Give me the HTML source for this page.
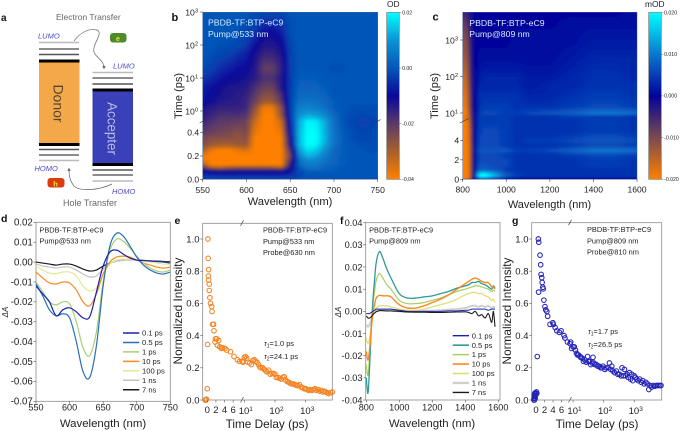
<!DOCTYPE html>
<html lang="en">
<head>
<meta charset="utf-8">
<title>Transient absorption figure</title>
<style>
html,body{margin:0;padding:0;background:#fff;width:683px;height:431px;overflow:hidden}
svg{display:block;font-family:"Liberation Sans",sans-serif}
</style>
</head>
<body>
<svg id="fig" xmlns="http://www.w3.org/2000/svg" width="683" height="431" viewBox="0 0 683 431">
  <defs>
    <clipPath id="clip-b"><rect x="202.7" y="12.3" width="175" height="167"/></clipPath>
    <clipPath id="clip-c"><rect x="462.7" y="12.3" width="174.3" height="167"/></clipPath>
    <clipPath id="clip-d"><rect x="36" y="222.3" width="134.3" height="179"/></clipPath>
    <clipPath id="clip-f"><rect x="365.7" y="222.7" width="134.3" height="177.3"/></clipPath>
    <filter id="blur-b" filterUnits="userSpaceOnUse" x="170" y="-20" width="240" height="230"><feGaussianBlur stdDeviation="1.2 0.8"/></filter>
    <filter id="blur-c" filterUnits="userSpaceOnUse" x="430" y="-20" width="240" height="230"><feGaussianBlur stdDeviation="1 0.5"/></filter>
    <linearGradient id="grad-b" x1="0" y1="1" x2="0" y2="0"></linearGradient>
    <linearGradient id="grad-c" x1="0" y1="1" x2="0" y2="0"></linearGradient>
    <marker id="arrow-head" markerWidth="5" markerHeight="5" refX="3" refY="2.5" orient="auto"><path d="M0,0 L5,2.5 L0,5 Z" fill="#666"/></marker>
  </defs>

  <g>
    <text x="1" y="21" font-size="10" font-weight="bold" fill="#111">a</text>
    <text x="56" y="20" font-size="8.5" fill="#666">Electron Transfer</text>
    <text x="63" y="206" font-size="9" fill="#666">Hole Transfer</text>
    <text x="38" y="38.5" font-size="7.5" font-style="italic" fill="#4a4ac8">LUMO</text>
    <text x="113" y="68.5" font-size="7.5" font-style="italic" fill="#4a4ac8">LUMO</text>
    <text x="34.5" y="171" font-size="7.5" font-style="italic" fill="#4a4ac8">HOMO</text>
    <text x="112" y="194" font-size="7.5" font-style="italic" fill="#4a4ac8">HOMO</text>
    <rect x="110" y="33" width="16.5" height="9.5" rx="3" fill="#4f8a2c"/>
    <text x="118" y="41" font-size="7" font-weight="bold" text-anchor="middle" fill="#e8e830">e</text>
    <rect x="47.5" y="178" width="17" height="9.5" rx="3" fill="#dc3a10"/>
    <text x="55.5" y="186.5" font-size="7.5" font-weight="bold" text-anchor="middle" fill="#f2e030">h</text>
    <rect x="39" y="62" width="40.5" height="82" fill="#f5a84a"/>
    <text transform="translate(53.5,103.5) rotate(90)" font-size="14" text-anchor="middle" fill="#55452f">Donor</text>
    <rect x="92.5" y="90" width="40.5" height="75" fill="#3a40b8"/>
    <text transform="translate(107.5,128.5) rotate(90)" font-size="13.4" text-anchor="middle" fill="#b8bce8">Accepter</text>
    <g stroke-width="1.4">
      <line x1="39" x2="79" y1="42.5" y2="42.5" stroke="#bbb"/>
      <line x1="39" x2="79" y1="49" y2="49" stroke="#666"/>
      <line x1="39" x2="79" y1="54.5" y2="54.5" stroke="#555"/>
      <line x1="39" x2="79.5" y1="61" y2="61" stroke="#000" stroke-width="3"/>
      <line x1="39" x2="79.5" y1="144.5" y2="144.5" stroke="#000" stroke-width="3"/>
      <line x1="39" x2="79" y1="149.5" y2="149.5" stroke="#555"/>
      <line x1="39" x2="79" y1="155" y2="155" stroke="#666"/>
      <line x1="39" x2="79" y1="160.5" y2="160.5" stroke="#bbb"/>
    </g>
    <g stroke-width="1.4">
      <line x1="92.5" x2="133" y1="72.5" y2="72.5" stroke="#bbb"/>
      <line x1="92.5" x2="133" y1="78" y2="78" stroke="#666"/>
      <line x1="92.5" x2="133" y1="84" y2="84" stroke="#555"/>
      <line x1="92.5" x2="133" y1="90" y2="90" stroke="#000" stroke-width="3"/>
      <line x1="92.5" x2="133" y1="164.5" y2="164.5" stroke="#000" stroke-width="3"/>
      <line x1="92.5" x2="133" y1="170" y2="170" stroke="#555"/>
      <line x1="92.5" x2="133" y1="175" y2="175" stroke="#666"/>
      <line x1="92.5" x2="133" y1="181" y2="181" stroke="#bbb"/>
    </g>
    <path d="M74,41 C80,33 88,28 97,30 C104,33 92,44 94,52 C96,58 104,60 104,68" fill="none" stroke="#666" stroke-width="0.7" marker-end="url(#arrow-head)"/>
    <path d="M112,184 C100,190 80,192 74,186 C70,181 69,176 69,169" fill="none" stroke="#666" stroke-width="0.7" marker-end="url(#arrow-head)"/>
  </g>
  <g id="charts"></g>
</svg>

<script>
// ---------- panel b heatmap data (values in 10^-3 OD) ----------
const bWavelengths = [550,560,570,580,590,600,610,620,630,640,650,660,670,680,690,700,710,720,730,740,750];
const bTimes = [0,0.04,0.07,0.1,0.13,0.17,0.2,0.25,0.3,0.35,0.4,0.5,0.75,1.3,2,3,5,10,20,50,100,200,500,1000];
const bMatrix = [
 [-2,-2,-2,-2,-2,-2,-2,-2,-2,-2,-2,-1,-1,-1,-1,-1,-1,-1,-1,-1,-1],
 [-5,-5,-6,-6,-6,-6,-6,-6,-6,-6,-5,-2,0,0,0,0,0,0,0,0,0],
 [-10,-11,-12,-13,-12,-12,-12,-12,-12,-12,-9,-2,1,1,1,1,0,0,0,0,0],
 [-18,-28,-30,-26,-25,-25,-25,-25,-26,-28,-12,0,4,4,2,1,0,0,0,0,0],
 [-30,-40,-40,-40,-40,-40,-40,-40,-40,-40,-16,2,6,6,3,2,1,0,0,0,0],
 [-38,-40,-40,-40,-40,-40,-40,-40,-40,-40,-20,3,9,8,5,2,1,0,0,0,0],
 [-38,-40,-40,-40,-40,-40,-40,-40,-40,-40,-24,6,13,11,6,3,1,0,0,0,0],
 [-30,-38,-40,-40,-38,-36,-40,-40,-40,-40,-20,10,17,15,9,3,1,0,0,-1,-1],
 [-25,-28,-30,-30,-28,-28,-40,-40,-40,-40,-14,13,20,19,12,5,1,0,-1,-1,-1],
 [-24,-26,-26,-26,-27,-26,-40,-40,-40,-40,-12,13,20,20,13,5,1,-1,-2,-2,-1],
 [-20,-22,-23,-24,-26,-24,-38,-40,-40,-38,-9,13,20,20,13,5,1,-1,-2,-2,-1],
 [-16,-18,-20,-20,-21,-22,-34,-40,-40,-34,-6,12,19,18,12,4,0,-2,-3,-3,-2],
 [-14,-16,-18,-18,-18,-19,-30,-40,-40,-28,-4,9,12,11,8,3,0,-1,-2,-2,-1],
 [-12,-14,-15,-15,-15,-16,-26,-38,-38,-26,-3,6,7,6,4,1,0,-1,-1,-1,-1],
 [-9,-11,-13,-14,-14,-16,-22,-28,-28,-20,-3,4,5,4,3,1,0,0,0,0,0],
 [-8,-10,-12,-13,-14,-15,-20,-26,-26,-18,-3,3,3,3,2,0,0,0,0,0,0],
 [-7,-9,-11,-13,-13,-14,-18,-22,-22,-14,-3,2,2,2,1,0,0,0,0,0,0],
 [-4,-6,-8,-10,-11,-12,-14,-18,-18,-14,-3,1,1,1,0,0,0,0,0,0,0],
 [-1,-3,-5,-7,-9,-10,-13,-21,-21,-15,-3,0,0,0,0,-1,-1,0,0,0,0],
 [0,-1,-2,-3,-5,-7,-12,-16,-16,-13,-3,0,0,0,0,0,0,0,0,0,0],
 [0,0,-1,-1,-2,-4,-9,-13,-13,-11,-2,0,0,0,0,0,0,0,0,0,0],
 [0,0,0,0,-1,-2,-5,-11,-11,-8,-1,0,0,0,0,0,0,0,0,0,0],
 [0,0,0,0,0,-1,-2,-4,-5,-4,-1,0,0,0,0,0,0,0,0,0,0],
 [0,0,0,0,0,0,-1,-2,-2,-2,0,0,0,0,0,0,0,0,0,0,0]
];
const bXTicks = [550,600,650,700,750];
const bYLinearTicks = [0,0.2,0.4];
const bYLogTicks = [0,1,2,3];
const bColorTicks = [0.02,0,-0.02,-0.04];
const bColorTickLabels = ["0.02","0.00","-0.02","-0.04"];

// ---------- panel c heatmap data (values in 10^-3 OD) ----------
const cWavelengths = [800,815,830,845,860,880,900,950,1000,1050,1100,1200,1300,1400,1500,1600];
const cTimes = [0,0.1,0.3,0.6,1,1.5,2,2.5,3,3.5,4,4.5,5,6,8,10,15,30,60,100,300,1000,3000,5600];
const cMatrix = [
 [-2,-2,-2,-1,0,0,0,0,0,0,0,0,0,0,0,0],
 [-20,-20,-18,-6,2,8,8,5,3,1,1,1,1,1,1,1],
 [-20,-20,-18,-8,8,20,20,14,7,5,4,4,4,4,4,4],
 [-20,-20,-18,-8,7,18,19,13,7,5,4,4,4,4,4,4],
 [-20,-20,-18,-8,4,8,8,7,5,4,4,4,4,4,4,4],
 [-20,-20,-18,-8,3,7,7,6,6,4,4,4,4,5,5,4],
 [-20,-20,-18,-8,3,6,6,6,6,4,4,4,4,5,5,4],
 [-20,-20,-18,-8,3,6,6,6,5,4,4,4,5,6,6,5],
 [-20,-20,-18,-8,3,7,7,7,7,5,5,6,8,10,10,9],
 [-20,-20,-18,-8,3,6,6,6,5,4,4,4,5,6,6,5],
 [-20,-20,-17,-7,2,6,6,6,5,4,5,5,6,7,7,6],
 [-20,-20,-17,-7,2,6,6,6,5,4,4,4,5,6,6,5],
 [-20,-20,-17,-7,2,5,6,6,5,4,4,4,4,5,5,4],
 [-20,-20,-16,-6,2,5,5,5,5,4,4,4,4,5,5,4],
 [-19,-19,-15,-5,1,5,5,5,5,4,4,4,5,5,5,4],
 [-20,-20,-14,-5,1,5,6,6,5,5,6,7,8,10,10,9],
 [-19,-19,-13,-4,1,4,5,5,5,4,4,4,5,6,6,5],
 [-18,-18,-12,-4,1,4,4,4,4,4,3,3,4,5,5,4],
 [-17,-17,-11,-3,0,3,3,3,3,3,2,3,3,4,4,4],
 [-16,-16,-10,-3,0,2,3,3,3,3,2,2,3,4,4,3],
 [-13,-13,-9,-2,0,1,1,1,1,1,1,1,2,3,3,3],
 [-11,-11,-7,-2,0,0,0,0,0,1,1,1,1,2,2,2],
 [-8,-8,-5,-1,0,0,0,0,0,0,0,0,1,1,1,1],
 [-4,-5,-3,-1,0,0,0,0,0,0,0,0,0,0,0,1]
];
const cXTicks = [800,1000,1200,1400,1600];
const cYLinearTicks = [0,2,4];
const cYLogTicks = [1,2,3];
const cColorTicks = [0.02,0.01,0,-0.01,-0.02];
const cColorTickLabels = ["0.020","0.010","0.000","-0.010","-0.020"];

// ---------- panel d spectra (values in 10^-3) ----------
const dWavelengths = [550,560,570,580,590,600,610,620,630,640,650,660,670,680,690,700,710,720,730,740,750];
const d7ns    = [0,-0.5,-1,-1.5,-1,-1,-2,-3.5,-4.5,-4,-2,-0.5,0.5,1,1.2,1,0.8,0.6,0.5,0.3,0.2];
const d1ns    = [-1,-2,-2.5,-3,-2.5,-2.5,-4,-6,-7.5,-7,-3.5,-0.5,0.5,1,1,1,0.8,0.5,0.3,0,-0.2];
const d100ps  = [-2,-4,-5.5,-5.8,-5,-5,-7,-12,-14.5,-13,-6,-1,1,1.5,1.5,1,0.5,0,-0.5,-1,-1];
const d10ps   = [-5,-8,-10.5,-11,-10,-10.5,-14,-20,-22,-16,-6,0,2.5,3,2.5,1,-0.5,-1.5,-2.5,-3,-2.5];
const d1ps    = [-10,-15,-20,-21.5,-20,-21,-30,-43,-47,-35,-10,6,11.5,10.5,7,3,-0.5,-3,-4.5,-5,-4];
const d05ps   = [-11,-17,-24,-27,-26,-28,-40,-55,-58,-42,-12,8,14.5,13,8,2.5,-1.5,-4,-5.5,-6,-5];
const d01ps   = [-12,-16,-20,-27,-24,-23,-25,-28,-27.5,-15,-2,5,6,4,2,1,0.8,0.5,0.3,0,-0.5];
const dLegend = ["0.1 ps","0.5 ps","1 ps","10 ps","100 ps","1 ns","7 ns"];
const dXTicks = [550,600,650,700,750];
const dYTicks = [0.02,0.01,0,-0.01,-0.02,-0.03,-0.04,-0.05,-0.06,-0.07];

// ---------- panel e kinetics ----------
const eTimes = [-0.5,-0.4,-0.3,-0.2,0,0.05,0.15,0.2,0.3,0.25,0.3,0.45,0.45,0.6,0.75,1,1.1,1.25,1.45,1.55,1.8,1.9,2.2,2.65,2.35,2.9,3.3,3.5,4.1,4.5,5.4,6.2,7,7.5,8.5,9,10,11,12,13,15,17,19,21,23,26,29,32,35,40,45,50,55,62,70,80,90,100,110,125,140,160,180,200,220,250,280,310,350,400,450,500,560,630,710,800,900,1000,1100,1250,1400,1600,1800,2000,2200,2500,2800,3200,3600,4000,4500,5000,5600,6500,7400];
const eValues = [0,0,0,0.005,0.07,0.345,1.0,0.88,0.81,0.77,0.745,0.72,0.68,0.635,0.6,0.58,0.55,0.47,0.47,0.43,0.36,0.38,0.38,0.37,0.34,0.33,0.32,0.325,0.32,0.31,0.30,0.27,0.25,0.24,0.24,0.235,0.265,0.27,0.26,0.235,0.23,0.22,0.245,0.25,0.24,0.235,0.22,0.205,0.2,0.2,0.19,0.18,0.175,0.185,0.16,0.165,0.165,0.16,0.14,0.14,0.135,0.13,0.14,0.145,0.125,0.115,0.11,0.105,0.1,0.1,0.095,0.09,0.09,0.095,0.08,0.075,0.07,0.07,0.065,0.06,0.065,0.06,0.065,0.07,0.06,0.065,0.055,0.06,0.05,0.055,0.05,0.045,0.04,0.045,0.05];
const eYTicks = [0,0.2,0.4,0.6,0.8,1.0];
const eXLinearTicks = [0,2,4,6];
const eXLogTicks = [1,2,3];

// ---------- panel f spectra (values in 10^-3) ----------
const fWavelengths = [800,810,820,830,840,850,860,880,900,925,950,1000,1050,1100,1150,1200,1250,1300,1350,1400,1420,1440,1460,1480,1500,1520,1540,1560,1570,1580];
const f1ns   = [-6,-7,-6,-4,-1,0,0.5,0.8,0.8,0.7,0.5,0,0,0,0.2,0.3,0.5,0.8,1,1.5,2,2.5,2.5,2,2.5,2,2.5,1.5,2,1.5];
const f100ps = [-12,-14.5,-12,-7,-2,0,1.5,2.5,2.5,2.5,2,1,0.5,0.5,1,2,3,4,5.5,7.5,8,8.5,8.5,8,8,7,6.5,5,5.5,4];
const f1ps   = [-24,-29,-20,-6,3,9,14,17,15,12,10,5,3.5,3.5,4,5,6,7.5,9,10,10.5,11,11.5,11.5,11,10.5,10,9,9.5,9];
const f05ps  = [-30,-37,-25,-8,5,14,22,27,24,19,15,8,6,6,6.5,7,8,9,10.5,11.5,12,13,13,13.5,12.5,12,11,10,11.5,10.5];
const f10ps  = [-18,-22,-17,-8,-1,3,6,7.2,7,7,6.5,3,1.5,1.5,2.5,4,5.5,7.5,10,12.5,13.5,14.5,15,14.5,13.5,13,13,11,11,10];
const f01ps  = [-1,-1,-1,-0.5,0,0.5,1,1,1,1,1,0.5,0,0,0,0,0,0.2,0.2,0.5,0.5,1,1,1,1,1,0.5,1,1,1];
const f7ns   = [-2,-3,-3,-2.5,-1.5,-0.8,-0.2,0.3,0.3,0.2,0.2,0,-0.3,-0.4,-0.4,-0.5,-0.5,-0.4,-0.3,-0.2,-0.5,-1,0,-2,-1.5,-3,-1,-5,0,-7];
const fLegend = ["0.1 ps","0.5 ps","1 ps","10 ps","100 ps","1 ns","7 ns"];
const fXTicks = [800,1000,1200,1400,1600];
const fYTicks = [0.04,0.03,0.02,0.01,0,-0.01,-0.02,-0.03,-0.04];

// ---------- panel g kinetics ----------
const gTimes = [-0.5,-0.45,-0.4,-0.35,-0.3,-0.25,-0.2,-0.15,-0.1,0.1,0.2,0.3,0.55,0.6,0.65,0.95,1.1,1.2,1.35,1.45,1.6,1.7,1.85,2.1,2.3,2.55,2.75,3.3,3.95,4.1,4.5,4.9,5.5,5.9,6.6,6.8,7.4,8,8.4,9,10,11,12,13,14,15,17,18,20,22,24,27,30,32,35,38,42,45,48,52,58,65,72,80,88,96,110,120,140,155,170,185,200,230,260,290,330,370,400,440,480,520,580,640,700,760,830,900,1000,1100,1200,1350,1500,1700,1900,2100,2400,2700,3000,3300,3700,4200,4700,5300,6000,6800,7500];
const gValues = [0,0.01,0.03,0,0.04,0.02,0.01,0.045,0.03,0.05,0.04,0.27,1.0,0.67,0.98,0.9,0.84,0.78,0.76,0.73,0.7,0.69,0.62,0.58,0.56,0.55,0.52,0.47,0.48,0.47,0.45,0.43,0.42,0.43,0.4,0.385,0.36,0.35,0.36,0.32,0.33,0.33,0.31,0.29,0.28,0.28,0.27,0.265,0.26,0.24,0.25,0.235,0.27,0.24,0.24,0.22,0.23,0.265,0.23,0.22,0.22,0.21,0.21,0.2,0.2,0.21,0.19,0.2,0.2,0.23,0.19,0.21,0.18,0.17,0.18,0.16,0.16,0.15,0.2,0.15,0.19,0.15,0.16,0.14,0.17,0.13,0.16,0.12,0.15,0.14,0.13,0.12,0.13,0.11,0.12,0.1,0.11,0.1,0.065,0.09,0.08,0.09,0.085,0.09,0.09,0.09,0.09];
const gYTicks = [0,0.2,0.4,0.6,0.8,1.0];
const gXLinearTicks = [0,2,4,6];
const gXLogTicks = [1,2,3];

// ---------- helpers ----------
const NS = 'http://www.w3.org/2000/svg';
const root = document.getElementById('charts');
function add(parent, tag, name, attrs, text) {
  const el = document.createElementNS(NS, tag);
  
  
  for (const k in attrs) el.setAttribute(k, attrs[k]);
  if (text !== undefined) el.textContent = text;
  parent.appendChild(el);
  return el;
}
function line(g, name, x1, y1, x2, y2, stroke, w) {
  return add(g, 'line', name, {x1, y1, x2, y2, stroke: stroke || '#333', 'stroke-width': w || 0.6});
}
function powerLabel(g, name, x, y, exp, size) {
  const t = add(g, 'text', name, {x, y, 'font-size': size, 'text-anchor': 'middle', fill: '#222'}, '10');
  const s = document.createElementNS(NS, 'tspan');
  s.setAttribute('dy', -3);
  s.setAttribute('font-size', size * 0.68);
  s.textContent = exp;
  t.appendChild(s);
  return t;
}
function rotatedLabel(g, name, x, y, txt, size, extra) {
  return add(g, 'text', name, Object.assign({transform: `translate(${x},${y}) rotate(-90)`, 'font-size': size, 'text-anchor': 'middle', fill: '#222'}, extra || {}), txt);
}
function lerpColor(stops, v) {
  if (v <= stops[0][0]) return '#' + stops[0][1];
  if (v >= stops[stops.length - 1][0]) return '#' + stops[stops.length - 1][1];
  for (let i = 1; i < stops.length; i++) {
    if (v <= stops[i][0]) {
      const a = stops[i - 1], b = stops[i], f = (v - a[0]) / (b[0] - a[0]);
      const ca = a[1].match(/\w\w/g).map(h => parseInt(h, 16));
      const cb = b[1].match(/\w\w/g).map(h => parseInt(h, 16));
      return 'rgb(' + ca.map((c, j) => Math.round(c + (cb[j] - c) * f)).join(',') + ')';
    }
  }
}
function smoothPath(xs, ys) {
  let d = `M${xs[0].toFixed(2)},${ys[0].toFixed(2)}`;
  for (let i = 0; i < xs.length - 1; i++) {
    const p0 = i ? i - 1 : i, p3 = i + 2 < xs.length ? i + 2 : i + 1;
    const c1x = xs[i] + (xs[i + 1] - xs[p0]) / 6, c1y = ys[i] + (ys[i + 1] - ys[p0]) / 6;
    const c2x = xs[i + 1] - (xs[p3] - xs[i]) / 6, c2y = ys[i + 1] - (ys[p3] - ys[i]) / 6;
    d += `C${c1x.toFixed(2)},${c1y.toFixed(2)} ${c2x.toFixed(2)},${c2y.toFixed(2)} ${xs[i + 1].toFixed(2)},${ys[i + 1].toFixed(2)}`;
  }
  return d;
}
// Draws the matrix as fine shaded tiles: each tile colour comes from the surrounding matrix values.
function heatmap(g, clip, filter, xs, ts, matrix, xScale, yScale, stops, x0, x1, y0, y1) {
  const clipG = add(g, 'g', 'heatmap-clip', {'clip-path': `url(#${clip})`});
  add(clipG, 'rect', 'heatmap-background', {x: x0, y: y1, width: x1 - x0, height: y0 - y1, fill: lerpColor(stops, 0)});
  const blur = add(clipG, 'g', 'heatmap-cells', {filter: `url(#${filter})`});
  for (let r = 0; r < ts.length - 1; r++) {
    const ya = yScale(ts[r]), yb = yScale(ts[r + 1]);
    const ny = Math.max(1, Math.ceil(Math.abs(ya - yb) / 2));
    for (let sr = 0; sr < ny; sr++) {
      const fy = (sr + 0.5) / ny;
      let top = yb + (ya - yb) * (1 - (sr + 1) / ny) - 0.3;
      let bot = yb + (ya - yb) * (1 - sr / ny) + 0.3;
      if (r === 0 && sr === 0) bot += 4;
      if (r === ts.length - 2 && sr === ny - 1) top -= 4;
      for (let c = 0; c < xs.length - 1; c++) {
        const xa = xScale(xs[c]), xb = xScale(xs[c + 1]);
        const nx = Math.max(1, Math.ceil((xb - xa) / 2.2));
        for (let sc = 0; sc < nx; sc++) {
          const fx = (sc + 0.5) / nx;
          const v = (matrix[r][c] * (1 - fx) + matrix[r][c + 1] * fx) * (1 - fy) + (matrix[r + 1][c] * (1 - fx) + matrix[r + 1][c + 1] * fx) * fy;
          let l = xa + (xb - xa) * sc / nx - 0.3;
          let rr = xa + (xb - xa) * (sc + 1) / nx + 0.3;
          if (c === 0 && sc === 0) l -= 4;
          if (c === xs.length - 2 && sc === nx - 1) rr += 4;
          add(blur, 'rect', 'heatmap-cell', {x: l.toFixed(2), y: top.toFixed(2), width: (rr - l).toFixed(2), height: (bot - top).toFixed(2), fill: lerpColor(stops, v)});
        }
      }
    }
  }
}
function colorbar(g, gradId, stops, x, w, y0, y1, vMin, vMax, ticks, labels, title, titleX) {
  const grad = document.getElementById(gradId);
  stops.forEach(s => {
    const st = document.createElementNS(NS, 'stop');
    st.setAttribute('offset', (s[0] - vMin) / (vMax - vMin));
    st.setAttribute('stop-color', '#' + s[1]);
    grad.appendChild(st);
  });
  add(g, 'rect', 'colorbar', {x, y: y1, width: w, height: y0 - y1, fill: `url(#${gradId})`, stroke: '#555', 'stroke-width': 0.5});
  ticks.forEach((v, i) => {
    const y = y0 + (y1 - y0) * (v * 1000 - vMin) / (vMax - vMin);
    line(g, 'colorbar-tick', x + w, y, x + w + 2, y, '#444', 0.4);
    add(g, 'text', 'colorbar-tick-label', {x: x + w + 2.8, y: y + 1.8, 'font-size': 5.2, fill: '#222'}, labels[i]);
  });
  add(g, 'text', 'colorbar-title', {x: titleX, y: 7, 'font-size': 8.4, fill: '#222'}, title);
}

// ---------- panel b ----------
(function () {
  const g = add(root, 'g', 'panel-b', {});
  const L = 202.7, R = 377.7, B = 179.3, T = 12.3;
  const x = w => L + (w - 550) / 200 * (R - L);
  const y = t => t <= 0.5 ? B - t * 116.5 : 111 - Math.log10(t) * 33;
  const stops = [[-40, 'ff8000'], [-30, 'a8602c'], [-20, '5c3a68'], [-10, '08089a'], [0, '0656b8'], [10, '0a94d4'], [20, '00ffff']];
  heatmap(g, 'clip-b', 'blur-b', bWavelengths, bTimes, bMatrix, x, y, stops, L, R, B, T);
  add(g, 'rect', 'plot-frame', {x: L, y: T, width: R - L, height: B - T, fill: 'none', stroke: '#39558a', 'stroke-width': 0.4});
  bXTicks.forEach(w => {
    line(g, 'x-tick', x(w), B, x(w), B + 2.5);
    add(g, 'text', 'x-tick-label', {x: x(w), y: 192.8, 'font-size': 8.6, 'text-anchor': 'middle', fill: '#222'}, w);
  });
  bYLinearTicks.forEach(t => {
    line(g, 'y-tick', L - 2.5, y(t), L, y(t));
    add(g, 'text', 'y-tick-label', {x: L - 3.5, y: y(t) + 3, 'font-size': 8.6, 'text-anchor': 'end', fill: '#222'}, t.toFixed(1));
  });
  bYLogTicks.forEach(e => {
    line(g, 'y-tick', L - 2.5, y(Math.pow(10, e)), L, y(Math.pow(10, e)));
    powerLabel(g, 'y-tick-label', L - 11, y(Math.pow(10, e)) + 3.5, e, 8.6);
  });
  line(g, 'axis-break-left', L - 3, 123, L + 3, 119.5, '#333', 0.6);
  line(g, 'axis-break-right', R - 3, 123, R + 3, 119.5, '#333', 0.6);
  add(g, 'text', 'panel-label-b', {x: 171.5, y: 21, 'font-size': 11, 'font-weight': 'bold', fill: '#111'}, 'b');
  add(g, 'text', 'sample-label', {x: 208, y: 25.5, 'font-size': 8.7, fill: '#d5ecff'}, 'PBDB-TF:BTP-eC9');
  add(g, 'text', 'pump-label', {x: 208, y: 37, 'font-size': 8.7, fill: '#d5ecff'}, 'Pump@533 nm');
  add(g, 'text', 'x-axis-title', {x: 290, y: 205, 'font-size': 11.2, 'text-anchor': 'middle', fill: '#222'}, 'Wavelength (nm)');
  rotatedLabel(g, 'y-axis-title', 182, 96, 'Time (ps)', 11);
  colorbar(g, 'grad-b', stops, 386.7, 12.6, 179.3, 12.5, -40, 20, bColorTicks, bColorTickLabels, 'OD', 387);
})();

// ---------- panel c ----------
(function () {
  const g = add(root, 'g', 'panel-c', {});
  const L = 462.7, R = 637, B = 179.3, T = 12.3;
  const x = w => L + (w - 800) / 800 * (R - L);
  const y = t => t <= 6 ? B - t * 9.72 : 113 - (Math.log10(t) - 1) * 36.5;
  const stops = [[-20, 'ff8000'], [-10, '7a4a50'], [0, '02029a'], [10, '0a78d0'], [20, '00ffff']];
  heatmap(g, 'clip-c', 'blur-c', cWavelengths, cTimes, cMatrix, x, y, stops, L, R, B, T);
  add(g, 'rect', 'plot-frame', {x: L, y: T, width: R - L, height: B - T, fill: 'none', stroke: '#39558a', 'stroke-width': 0.4});
  cXTicks.forEach(w => {
    line(g, 'x-tick', x(w), B, x(w), B + 2.5);
    add(g, 'text', 'x-tick-label', {x: x(w), y: 192.5, 'font-size': 8.6, 'text-anchor': 'middle', fill: '#222'}, w);
  });
  cYLinearTicks.forEach(t => {
    line(g, 'y-tick', L - 2.5, y(t), L, y(t));
    add(g, 'text', 'y-tick-label', {x: L - 3.5, y: y(t) + 3, 'font-size': 8.6, 'text-anchor': 'end', fill: '#222'}, t);
  });
  cYLogTicks.forEach(e => {
    line(g, 'y-tick', L - 2.5, y(Math.pow(10, e)), L, y(Math.pow(10, e)));
    powerLabel(g, 'y-tick-label', L - 11, y(Math.pow(10, e)) + 3.5, e, 8.6);
  });
  line(g, 'axis-break-left', L - 3, 123, L + 6, 118.5, '#333', 0.6);
  add(g, 'text', 'panel-label-c', {x: 432.5, y: 20.5, 'font-size': 11, 'font-weight': 'bold', fill: '#111'}, 'c');
  add(g, 'text', 'sample-label', {x: 469.3, y: 26, 'font-size': 8.7, fill: '#d5ecff'}, 'PBDB-TF:BTP-eC9');
  add(g, 'text', 'pump-label', {x: 469.3, y: 37, 'font-size': 8.7, fill: '#d5ecff'}, 'Pump@809 nm');
  add(g, 'text', 'x-axis-title', {x: 549.5, y: 208, 'font-size': 11, 'text-anchor': 'middle', fill: '#222'}, 'Wavelength (nm)');
  rotatedLabel(g, 'y-axis-title', 438, 96, 'Time (ps)', 11);
  colorbar(g, 'grad-c', stops, 648.7, 12.6, 179.3, 12.5, -20, 20, cColorTicks, cColorTickLabels, 'mOD', 645);
})();

// ---------- line panel helper ----------
function linePanel(opts) {
  const g = add(root, 'g', opts.name, {});
  const {L, R, T, B} = opts;
  add(g, 'rect', 'plot-frame', {x: L, y: T, width: R - L, height: B - T, fill: '#fff', stroke: '#8c8c8c', 'stroke-width': 0.8});
  const clip = add(g, 'g', 'series-group', {'clip-path': `url(#${opts.clip})`});
  opts.series.forEach(s => {
    add(clip, 'path', 'series-' + s.label.replace(' ', ''), {
      d: smoothPath(opts.xs.map(opts.x), s.values.map(v => opts.y(v / 1000))),
      fill: 'none', stroke: s.color, 'stroke-width': s.width, 'stroke-linejoin': 'round'
    });
  });
  opts.xTicks.forEach(w => {
    line(g, 'x-tick', opts.x(w), B, opts.x(w), B + 2.5, '#555');
    add(g, 'text', 'x-tick-label', {x: opts.x(w), y: opts.xTickY, 'font-size': 9.1, 'text-anchor': 'middle', fill: '#222'}, w);
  });
  opts.yTicks.forEach(v => {
    line(g, 'y-tick', L - 2.5, opts.y(v), L, opts.y(v), '#555');
    add(g, 'text', 'y-tick-label', {x: L - 3.2, y: opts.y(v) + 3.3, 'font-size': opts.yTickSize, 'text-anchor': 'end', fill: '#222'}, v.toFixed(2));
  });
  opts.legend.forEach((lab, i) => {
    const yy = opts.legendY + i * opts.legendStep;
    const s = opts.series.find(q => q.label === lab);
    line(g, 'legend-swatch', opts.legendX, yy, opts.legendX + 16.3, yy, s.color, s.width + 0.3);
    add(g, 'text', 'legend-label', {x: opts.legendX + 19, y: yy + 2.6, 'font-size': 7.6, fill: '#222'}, lab);
  });
  add(g, 'text', 'x-axis-title', {x: opts.titleX, y: 427, 'font-size': 11.4, 'text-anchor': 'middle', fill: '#222'}, 'Wavelength (nm)');
  rotatedLabel(g, 'y-axis-title', opts.dAx, 312, 'ΔA', 8, {'font-style': 'italic'});
  add(g, 'text', 'sample-label', {x: L + 3.4, y: T + 10, 'font-size': 7.4, fill: '#222'}, 'PBDB-TF:BTP-eC9');
  add(g, 'text', 'pump-label', {x: L + 3.4, y: T + 21, 'font-size': 7.4, fill: '#222'}, opts.pump);
  return g;
}

// ---------- panel d ----------
(function () {
  const L = 36, R = 170.3, T = 222.3, B = 401.3;
  const g = linePanel({
    name: 'panel-d', clip: 'clip-d', L, R, T, B,
    x: w => L + (w - 550) / 200 * (R - L),
    y: v => T + (0.02 - v) / 0.09 * (B - T),
    xs: dWavelengths, xTicks: dXTicks, yTicks: dYTicks, xTickY: 410.5, yTickSize: 9.7,
    legend: dLegend, legendX: 123, legendY: 333, legendStep: 9.45,
    titleX: 103, dAx: 8, pump: 'Pump@533 nm',
    series: [
      {label: '7 ns', values: d7ns, color: '#1a1a1a', width: 1.2},
      {label: '1 ns', values: d1ns, color: '#c2c2c2', width: 1.2},
      {label: '100 ps', values: d100ps, color: '#e6e890', width: 1.2},
      {label: '10 ps', values: d10ps, color: '#f88a20', width: 1.2},
      {label: '1 ps', values: d1ps, color: '#a8cf78', width: 1.2},
      {label: '0.5 ps', values: d05ps, color: '#2a70b8', width: 1.2},
      {label: '0.1 ps', values: d01ps, color: '#1a22b0', width: 1.2}
    ]
  });
  add(g, 'text', 'panel-label-d', {x: 1, y: 222, 'font-size': 10.5, 'font-weight': 'bold', fill: '#111'}, 'd');
})();

// ---------- panel f ----------
(function () {
  const L = 365.7, R = 500, T = 222.7, B = 400;
  const g = linePanel({
    name: 'panel-f', clip: 'clip-f', L, R, T, B,
    x: w => 366.3 + (w - 800) / 800 * 132,
    y: v => T + (0.04 - v) / 0.08 * (B - T),
    xs: fWavelengths, xTicks: fXTicks, yTicks: fYTicks, xTickY: 410.5, yTickSize: 9.2,
    legend: fLegend, legendX: 452.7, legendY: 335.7, legendStep: 9.45,
    titleX: 432, dAx: 341, pump: 'Pump@809 nm',
    series: [
      {label: '1 ns', values: f1ns, color: '#cfcfcf', width: 2},
      {label: '100 ps', values: f100ps, color: '#dede70', width: 1.2},
      {label: '1 ps', values: f1ps, color: '#a8cf60', width: 1.2},
      {label: '0.5 ps', values: f05ps, color: '#2f9a9a', width: 1.3},
      {label: '10 ps', values: f10ps, color: '#f88a20', width: 1.4},
      {label: '0.1 ps', values: f01ps, color: '#1a22b0', width: 1},
      {label: '7 ns', values: f7ns, color: '#1a1a1a', width: 1.1}
    ]
  });
  add(g, 'text', 'panel-label-f', {x: 340, y: 224, 'font-size': 10.5, 'font-weight': 'bold', fill: '#111'}, 'f');
})();

// ---------- kinetics helper ----------
function kineticsPanel(o) {
  const g = add(root, 'g', o.name, {});
  const {L, R, T, B} = o;
  add(g, 'rect', 'plot-frame', {x: L, y: T, width: R - L, height: B - T, fill: '#fff', stroke: '#8c8c8c', 'stroke-width': 0.8});
  o.times.forEach((t, i) => {
    add(g, 'circle', 'data-point', {cx: o.x(t).toFixed(2), cy: o.y(o.values[i]).toFixed(2), r: 2.3, fill: 'none', stroke: o.color, 'stroke-width': 1.05});
  });
  o.yTicks.forEach(v => {
    line(g, 'y-tick', L - 2.5, o.y(v), L, o.y(v), '#555');
    add(g, 'text', 'y-tick-label', {x: L - 3.2, y: o.y(v) + 3.3, 'font-size': 9.5, 'text-anchor': 'end', fill: '#222'}, v.toFixed(1));
  });
  o.linTicks.forEach(t => {
    line(g, 'x-tick', o.x(t), B, o.x(t), B + 2.5, '#555');
    add(g, 'text', 'x-tick-label', {x: o.x(t), y: 413, 'font-size': 9.5, 'text-anchor': 'middle', fill: '#222'}, t);
  });
  o.logTicks.forEach(e => {
    line(g, 'x-tick', o.x(Math.pow(10, e)), B, o.x(Math.pow(10, e)), B + 2.5, '#555');
    powerLabel(g, 'x-tick-label', o.x(Math.pow(10, e)) + 1.5, 414, e, 9.5);
  });
  line(g, 'axis-break-top', o.breakX - 1.5, T + 2.5, o.breakX + 1.5, T - 3, '#333', 0.6);
  line(g, 'axis-break-bottom', o.breakX - 1.5, B + 2.5, o.breakX + 1.5, B - 3, '#333', 0.6);
  o.notes.forEach((n, i) => add(g, 'text', 'annotation', {x: o.noteX, y: T + 9.3 + i * 11.3, 'font-size': 7.4, fill: '#222'}, n));
  o.taus.forEach((n, i) => {
    const t = add(g, 'text', 'lifetime-label', {x: o.tauX, y: o.tauY + i * 13, 'font-size': 7.4, fill: '#222'}, '');
    const a = document.createElementNS(NS, 'tspan');
    a.setAttribute('font-style', 'italic');
    a.textContent = 'τ';
    t.appendChild(a);
    const b = document.createElementNS(NS, 'tspan');
    b.setAttribute('font-size', 5);
    b.setAttribute('dy', 1.5);
    b.textContent = i + 1;
    t.appendChild(b);
    const c = document.createElementNS(NS, 'tspan');
    c.setAttribute('dy', -1.5);
    c.textContent = n;
    t.appendChild(c);
  });
  add(g, 'text', 'x-axis-title', {x: o.titleX, y: 428, 'font-size': 11.8, 'text-anchor': 'middle', fill: '#222'}, 'Time Delay (ps)');
  rotatedLabel(g, 'y-axis-title', o.yTitleX, 311, 'Normalized Intensity', 11.8);
  add(g, 'text', o.labelName, {x: o.labelX, y: 224, 'font-size': 10.5, 'font-weight': 'bold', fill: '#111'}, o.label);
}

// ---------- panel e ----------
kineticsPanel({
  name: 'panel-e', L: 202.7, R: 332.3, T: 223.3, B: 400,
  x: t => t <= 8 ? 207.3 + t * 4.3 : 244.3 + (Math.log10(t) - 1) * 30.7,
  y: v => 400 - v * 161,
  times: eTimes, values: eValues, color: '#f58220',
  yTicks: eYTicks, linTicks: eXLinearTicks, logTicks: eXLogTicks, breakX: 242,
  notes: ['PBDB-TF:BTP-eC9', 'Pump@533 nm', 'Probe@630 nm'], noteX: 263,
  taus: ['=1.0 ps', '=24.1 ps'], tauX: 264, tauY: 346,
  titleX: 267, yTitleX: 182, label: 'e', labelName: 'panel-label-e', labelX: 174.5
});

// ---------- panel g ----------
kineticsPanel({
  name: 'panel-g', L: 531.7, R: 661.7, T: 222.7, B: 400,
  x: t => t <= 8 ? 536 + t * 4.25 : 573 + (Math.log10(t) - 1) * 30.6,
  y: v => 400 - v * 161,
  times: gTimes, values: gValues, color: '#2323b8',
  yTicks: gYTicks, linTicks: gXLinearTicks, logTicks: gXLogTicks, breakX: 570,
  notes: ['PBDB-TF:BTP-eC9', 'Pump@809 nm', 'Probe@810 nm'], noteX: 587,
  taus: ['=1.7 ps', '=26.5 ps'], tauX: 588, tauY: 334,
  titleX: 597, yTitleX: 511, label: 'g', labelName: 'panel-label-g', labelX: 512
});
</script>
</body>
</html>
